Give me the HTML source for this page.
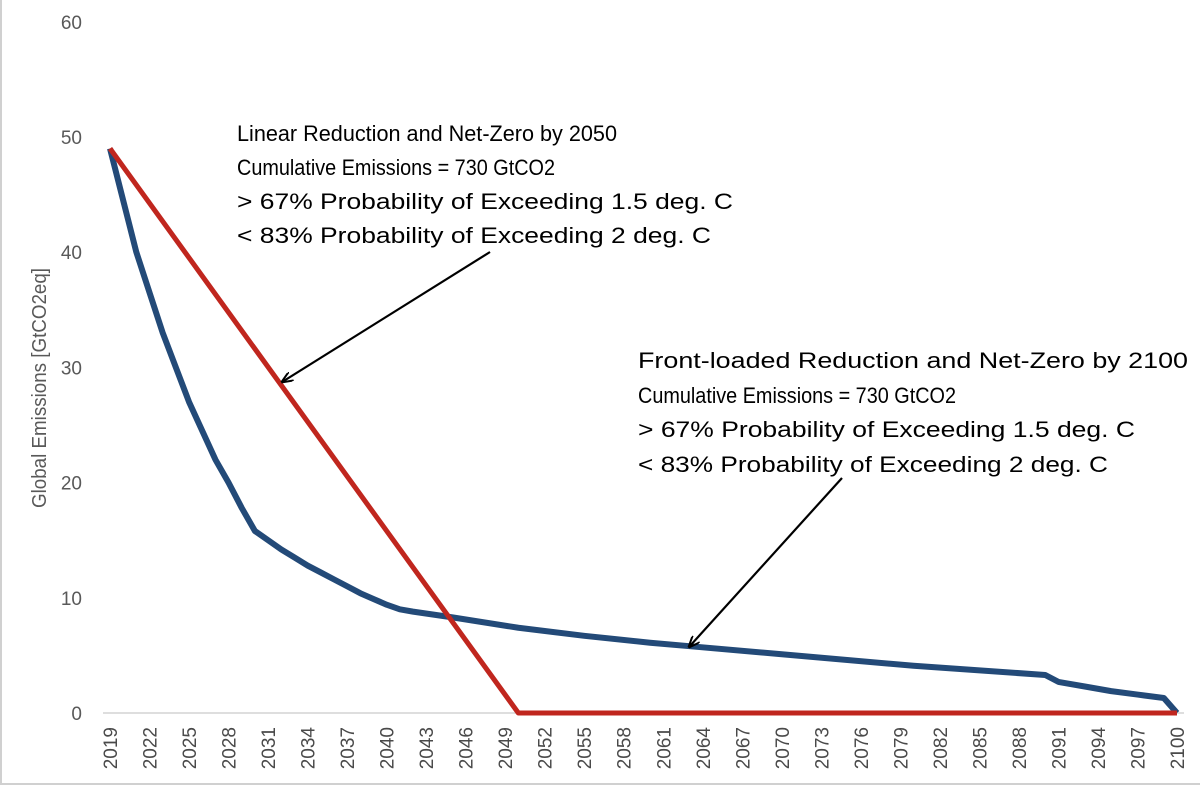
<!DOCTYPE html>
<html><head><meta charset="utf-8"><style>
html,body{margin:0;padding:0;background:#fff;}
svg{display:block;font-family:"Liberation Sans",sans-serif;}
</style></head><body>
<svg id="chart" width="1200" height="786" viewBox="0 0 1200 786">
<rect x="1" y="-2" width="1205" height="786" fill="none" stroke="#d0d0d0" stroke-width="2"/>
<g id="yticks"></g>
<g id="xticks"></g>
<line x1="103" y1="713" x2="1184" y2="713" stroke="#d4d4d4" stroke-width="1.5"/>
<text transform="translate(46,388) rotate(-90)" text-anchor="middle" font-size="20" fill="#595959" textLength="240" lengthAdjust="spacingAndGlyphs">Global Emissions [GtCO2eq]</text>
<g id="series"></g>
<g font-size="22" fill="#000">
<text x="237" y="141" textLength="380" lengthAdjust="spacingAndGlyphs">Linear Reduction and Net-Zero by 2050</text>
<text x="237" y="175" textLength="318" lengthAdjust="spacingAndGlyphs">Cumulative Emissions = 730 GtCO2</text>
<text x="237" y="209" textLength="496" lengthAdjust="spacingAndGlyphs">&gt; 67% Probability of Exceeding 1.5 deg. C</text>
<text x="237" y="243" textLength="474" lengthAdjust="spacingAndGlyphs">&lt; 83% Probability of Exceeding 2 deg. C</text>
</g>
<g font-size="22" fill="#000">
<text x="638" y="368" textLength="550" lengthAdjust="spacingAndGlyphs">Front-loaded Reduction and Net-Zero by 2100</text>
<text x="638" y="403" textLength="318" lengthAdjust="spacingAndGlyphs">Cumulative Emissions = 730 GtCO2</text>
<text x="638" y="437" textLength="497" lengthAdjust="spacingAndGlyphs">&gt; 67% Probability of Exceeding 1.5 deg. C</text>
<text x="638" y="472" textLength="470" lengthAdjust="spacingAndGlyphs">&lt; 83% Probability of Exceeding 2 deg. C</text>
</g>
<defs><marker id="ah" markerWidth="12" markerHeight="10" refX="11" refY="5" orient="auto" markerUnits="userSpaceOnUse"><path d="M0,0 L12,5 L0,10" fill="none" stroke="#000" stroke-width="2"/></marker></defs>
<line x1="490" y1="252" x2="282" y2="382" stroke="#000" stroke-width="2.2" marker-end="url(#ah)"/>
<line x1="842" y1="478" x2="689" y2="647" stroke="#000" stroke-width="2.2" marker-end="url(#ah)"/>
</svg>
<script>
const yTicks=[0,10,20,30,40,50,60];
const blueYears=[2019,2020,2021,2022,2023,2024,2025,2026,2027,2028,2029,2030,2031,2032,2033,2034,2035,2036,2037,2038,2039,2040,2041,2042,2045,2050,2055,2060,2063,2070,2080,2090,2091,2093,2095,2097,2099,2100];
const blueValues=[49,44.5,40,36.5,33,30,27,24.5,22,20,17.8,15.8,15,14.2,13.5,12.8,12.2,11.6,11,10.4,9.9,9.4,9,8.8,8.3,7.4,6.7,6.1,5.8,5.1,4.1,3.3,2.7,2.3,1.9,1.6,1.3,0];
const redYears=[2019,2050,2100];
const redValues=[49,0,0];
const NS="http://www.w3.org/2000/svg";
const X=y=>110+(y-2019)*(1177-110)/81;
const Y=v=>713-v*11.52;
const yt=document.getElementById('yticks');
yTicks.forEach(v=>{const t=document.createElementNS(NS,'text');t.setAttribute('x',82);t.setAttribute('y',Y(v)+7);t.setAttribute('text-anchor','end');t.setAttribute('font-size','19');t.setAttribute('fill','#595959');t.textContent=v;


yt.appendChild(t);});
const xt=document.getElementById('xticks');
for(let yr=2019;yr<=2100;yr+=3){const t=document.createElementNS(NS,'text');const x=X(yr)+7;t.setAttribute('transform','translate('+x+',727) rotate(-90)');t.setAttribute('text-anchor','end');t.setAttribute('font-size','19');t.setAttribute('fill','#4a4a4a');t.textContent=yr;


xt.appendChild(t);}
const s=document.getElementById('series');
function line(xs,vs,color,name,w){const p=document.createElementNS(NS,'polyline');p.setAttribute('points',xs.map((x,i)=>X(x)+','+Y(vs[i])).join(' '));p.setAttribute('fill','none');p.setAttribute('stroke',color);p.setAttribute('stroke-width',w);p.setAttribute('stroke-linejoin','round');


s.appendChild(p);}
line(blueYears,blueValues,'#234A78','front-loaded-series','6');
line(redYears,redValues,'#C0261E','linear-series','5');
</script>
</body></html>
